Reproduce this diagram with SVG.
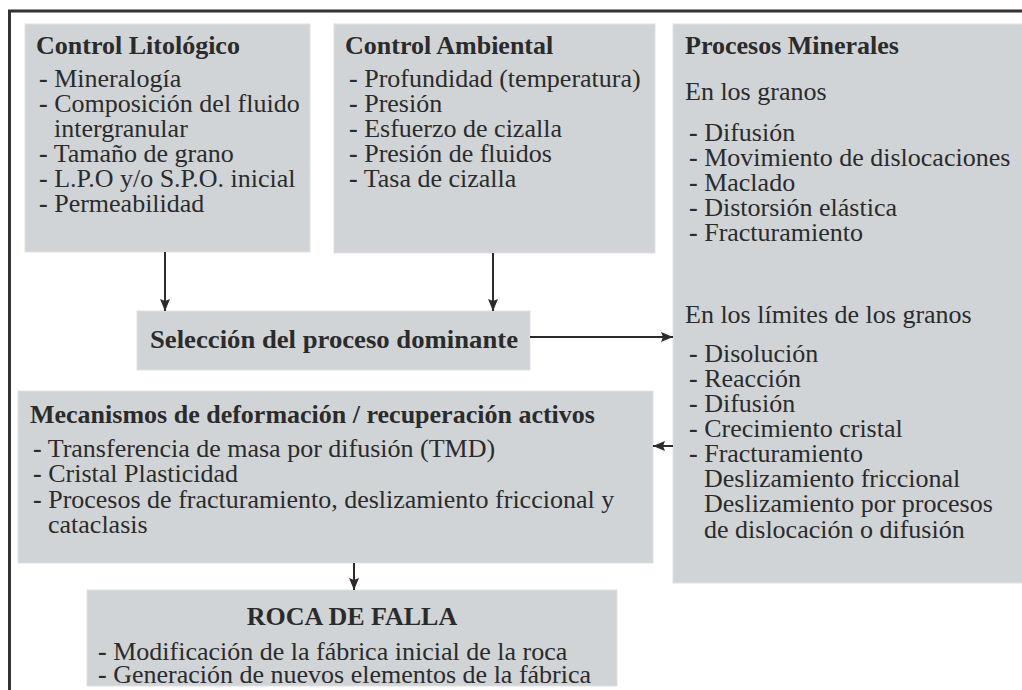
<svg xmlns="http://www.w3.org/2000/svg" width="1022" height="690" viewBox="0 0 1022 690">
<defs>
<marker id="ah" viewBox="0 0 12 10" refX="12" refY="5" markerWidth="12" markerHeight="10" orient="auto" markerUnits="userSpaceOnUse">
<path d="M0,0 L12,5 L0,10 L2,5 Z" fill="#2b2b2b"/>
</marker>
<style>
.box{fill:#d1d4d7;stroke:#dfe1e3;stroke-width:1;}
.t{font-family:"Liberation Serif","Times New Roman",serif;font-size:26px;fill:#2b2b2b;}
.b{font-family:"Liberation Serif","Times New Roman",serif;font-size:26px;font-weight:bold;fill:#2b2b2b;}
.d{font-weight:bold;}
.c{stroke:#2b2b2b;stroke-width:2;fill:none;}
</style>
</defs>
<rect width="1022" height="690" fill="#ffffff"/>
<rect x="9.5" y="11" width="1030" height="700" fill="none" stroke="#333" stroke-width="3"/>

<g id="control-litologico">
<rect class="box" x="25" y="24" width="285" height="228"/>
<text class="b" x="36" y="54">Control Litológico</text>
<text class="t" x="39" y="87"><tspan class="d">-</tspan> Mineralogía</text>
<text class="t" x="39" y="112"><tspan class="d">-</tspan> Composición del fluido</text>
<text class="t" x="54" y="137">intergranular</text>
<text class="t" x="39" y="162"><tspan class="d">-</tspan> Tamaño de grano</text>
<text class="t" x="39" y="187"><tspan class="d">-</tspan> L.P.O y/o S.P.O. inicial</text>
<text class="t" x="39" y="212"><tspan class="d">-</tspan> Permeabilidad</text>
</g>

<g id="control-ambiental">
<rect class="box" x="334" y="24" width="321" height="229"/>
<text class="b" x="345" y="54">Control Ambiental</text>
<text class="t" x="349" y="87"><tspan class="d">-</tspan> Profundidad (temperatura)</text>
<text class="t" x="349" y="112"><tspan class="d">-</tspan> Presión</text>
<text class="t" x="349" y="137"><tspan class="d">-</tspan> Esfuerzo de cizalla</text>
<text class="t" x="349" y="162"><tspan class="d">-</tspan> Presión de fluidos</text>
<text class="t" x="349" y="187"><tspan class="d">-</tspan> Tasa de cizalla</text>
</g>

<g id="procesos-minerales">
<rect class="box" x="673" y="24" width="360" height="559"/>
<text class="b" x="685" y="54">Procesos Minerales</text>
<text class="t" x="685" y="100">En los granos</text>
<text class="t" x="689" y="141"><tspan class="d">-</tspan> Difusión</text>
<text class="t" x="689" y="166"><tspan class="d">-</tspan> Movimiento de dislocaciones</text>
<text class="t" x="689" y="191"><tspan class="d">-</tspan> Maclado</text>
<text class="t" x="689" y="216"><tspan class="d">-</tspan> Distorsión elástica</text>
<text class="t" x="689" y="241"><tspan class="d">-</tspan> Fracturamiento</text>
<text class="t" x="685" y="323">En los límites de los granos</text>
<text class="t" x="689" y="362"><tspan class="d">-</tspan> Disolución</text>
<text class="t" x="689" y="387"><tspan class="d">-</tspan> Reacción</text>
<text class="t" x="689" y="412"><tspan class="d">-</tspan> Difusión</text>
<text class="t" x="689" y="437"><tspan class="d">-</tspan> Crecimiento cristal</text>
<text class="t" x="689" y="462"><tspan class="d">-</tspan> Fracturamiento</text>
<text class="t" x="704" y="487">Deslizamiento friccional</text>
<text class="t" x="704" y="512">Deslizamiento por procesos</text>
<text class="t" x="704" y="538">de dislocación o difusión</text>
</g>

<g id="seleccion">
<rect class="box" x="137" y="311" width="393" height="59"/>
<text class="b" x="334" y="348" text-anchor="middle" textLength="368" lengthAdjust="spacingAndGlyphs">Selección del proceso dominante</text>
</g>

<g id="mecanismos">
<rect class="box" x="18" y="391" width="635" height="172"/>
<text class="b" x="30" y="423">Mecanismos de deformación / recuperación activos</text>
<text class="t" x="33" y="457"><tspan class="d">-</tspan> Transferencia de masa por difusión (TMD)</text>
<text class="t" x="33" y="482"><tspan class="d">-</tspan> Cristal Plasticidad</text>
<text class="t" x="33" y="508"><tspan class="d">-</tspan> Procesos de fracturamiento, deslizamiento friccional y</text>
<text class="t" x="48" y="533">cataclasis</text>
</g>

<g id="roca-de-falla">
<rect class="box" x="87" y="590" width="530" height="96"/>
<text class="b" x="352" y="625" text-anchor="middle">ROCA DE FALLA</text>
<text class="t" x="98" y="660"><tspan class="d">-</tspan> Modificación de la fábrica inicial de la roca</text>
<text class="t" x="98" y="683"><tspan class="d">-</tspan> Generación de nuevos elementos de la fábrica</text>
</g>

<g id="connectors">
<line class="c" x1="165" y1="252" x2="165" y2="311" marker-end="url(#ah)"/>
<line class="c" x1="493" y1="253" x2="493" y2="311" marker-end="url(#ah)"/>
<line class="c" x1="530" y1="337" x2="673" y2="337" marker-end="url(#ah)"/>
<line class="c" x1="673" y1="446" x2="653" y2="446" marker-end="url(#ah)"/>
<line class="c" x1="354" y1="563" x2="354" y2="590" marker-end="url(#ah)"/>
</g>
</svg>
